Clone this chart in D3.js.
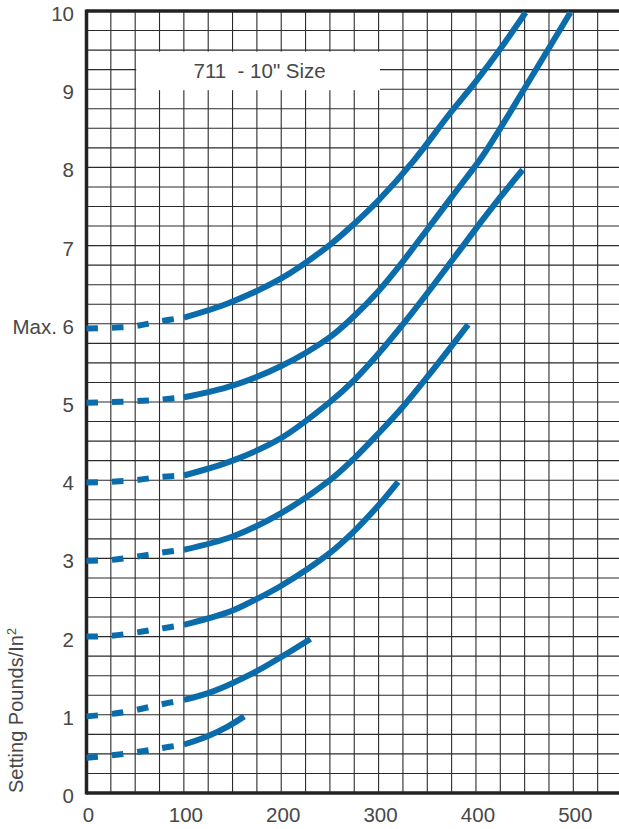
<!DOCTYPE html>
<html>
<head>
<meta charset="utf-8">
<script src="https://cdn.jsdelivr.net/npm/d3@7"></script>
<style>
body { margin: 0; background: #fff; }
text { font-family: "Liberation Sans", Arial, sans-serif; fill: #484848; }
</style>
</head>
<body>
<div id="chart"></div>
<script>
// Tick values and labels
var xTicks = [0, 100, 200, 300, 400, 500];
var yTicks = [0, 1, 2, 3, 4, 5, 6, 7, 8, 9, 10];
var yTickLabels = ["0", "1", "2", "3", "4", "5", "Max. 6", "7", "8", "9", "10"];

var boxLabel = "711  - 10\" Size";
var yTitle = "Setting Pounds/In";

// Curves: [flow, setting]
var curveHalf  = [[0, 0.45], [25, 0.48], [50, 0.52], [75, 0.57], [100, 0.62], [125, 0.73], [145, 0.85], [162, 0.98]];
var curveOne   = [[0, 0.98], [25, 1.01], [50, 1.06], [75, 1.13], [100, 1.19], [130, 1.30], [172, 1.54], [200, 1.74], [230, 1.97]];
var curveTwo   = [[0, 2.0], [25, 2.01], [50, 2.05], [75, 2.1], [100, 2.15], [145, 2.31], [165, 2.42], [200, 2.65], [250, 3.07], [275, 3.35], [300, 3.68], [320, 3.98]];
var curveThree = [[0, 2.97], [25, 2.98], [50, 3.02], [75, 3.07], [100, 3.11], [150, 3.28], [200, 3.58], [250, 4.0], [275, 4.28], [300, 4.6], [325, 4.94], [350, 5.32], [392, 5.99]];
var curveFour  = [[0, 3.97], [25, 3.98], [50, 4.0], [75, 4.04], [100, 4.06], [150, 4.25], [200, 4.54], [250, 5.0], [275, 5.28], [300, 5.62], [335, 6.15], [370, 6.72], [405, 7.3], [425, 7.62], [448, 7.97]];
var curveFive  = [[0, 4.99], [25, 5.0], [50, 5.01], [75, 5.03], [100, 5.06], [150, 5.21], [200, 5.46], [250, 5.83], [275, 6.1], [300, 6.42], [322, 6.75], [349, 7.19], [375, 7.62], [407, 8.15], [425, 8.5], [448, 8.97], [497, 9.98]];
var curveSix   = [[0, 5.94], [25, 5.95], [50, 5.97], [75, 6.03], [100, 6.08], [145, 6.26], [200, 6.58], [250, 7.01], [275, 7.28], [300, 7.58], [337, 8.1], [372, 8.67], [400, 9.1], [427, 9.55], [451, 9.98]];

var curves = [curveHalf, curveOne, curveTwo, curveThree, curveFour, curveFive, curveSix];

// SVG size
var svgWidth = 619;
var svgHeight = 829;

var svg = d3.select("#chart")
    .append("svg")
    .attr("width", svgWidth)
    .attr("height", svgHeight);

// Scales
var x = d3.scaleLinear().domain([0, 550]).range([86.5, 622]);
var y = d3.scaleLinear().domain([0, 10]).range([793, 11]);

// Grid lines every 25 across, every 0.25 up
var gridGroup = svg.append("g").attr("class", "grid");

gridGroup.selectAll(".vline")
    .data(d3.range(25, 550, 25))
    .enter()
    .append("line")
    .attr("class", "vline")
    .attr("x1", d => x(d))
    .attr("x2", d => x(d))
    .attr("y1", y(10))
    .attr("y2", y(0))
    .attr("stroke", "#2b2b2b")
    .attr("stroke-width", 1.1);

gridGroup.selectAll(".hline")
    .data(d3.range(1, 40).map(d => d / 4))
    .enter()
    .append("line")
    .attr("class", "hline")
    .attr("x1", x(0))
    .attr("x2", svgWidth)
    .attr("y1", d => y(d))
    .attr("y2", d => y(d))
    .attr("stroke", "#2b2b2b")
    .attr("stroke-width", 1.1);

// White label box over the grid
svg.append("rect")
    .attr("x", x(50) + 1)
    .attr("y", y(9.5) + 1.5)
    .attr("width", x(301.5) - x(50) - 1)
    .attr("height", y(9) - y(9.5) - 0.5)
    .attr("fill", "#fff");

svg.append("text")
    .attr("x", (x(50) + x(301.5)) / 2 + 2)
    .attr("y", (y(9.5) + y(9)) / 2 + 8)
    .attr("text-anchor", "middle")
    .style("font-size", "20.5px")
    .style("white-space", "pre")
    .text(boxLabel);

// Frame: left, top and bottom
svg.append("line")
    .attr("x1", x(0)).attr("x2", x(0))
    .attr("y1", y(10) - 1.5).attr("y2", y(0) + 1.5)
    .attr("stroke", "#222").attr("stroke-width", 3.5);
svg.append("line")
    .attr("x1", x(0)).attr("x2", svgWidth)
    .attr("y1", y(10)).attr("y2", y(10))
    .attr("stroke", "#222").attr("stroke-width", 3.5);
svg.append("line")
    .attr("x1", x(0)).attr("x2", svgWidth)
    .attr("y1", y(0)).attr("y2", y(0))
    .attr("stroke", "#222").attr("stroke-width", 3.5);

// Curves: dashed up to 100, solid after
var line = d3.line()
    .x(d => x(d[0]))
    .y(d => y(d[1]))
    .curve(d3.curveCatmullRom.alpha(0.5));

var curveGroup = svg.append("g").attr("class", "curves");

curves.forEach(function(pts) {
    curveGroup.append("path")
        .attr("d", line(pts.filter(d => d[0] <= 100)))
        .attr("fill", "none")
        .attr("stroke", "#0a6cab")
        .attr("stroke-width", 6)
        .attr("stroke-dasharray", "11.5,14");
    curveGroup.append("path")
        .attr("d", line(pts.filter(d => d[0] >= 100)))
        .attr("fill", "none")
        .attr("stroke", "#0a6cab")
        .attr("stroke-width", 6);
});

// Tick labels
svg.selectAll(".ylabel")
    .data(yTicks)
    .enter()
    .append("text")
    .attr("class", "ylabel")
    .attr("x", 74)
    .attr("y", d => y(d) + 10)
    .attr("text-anchor", "end")
    .style("font-size", "20.5px")
    .text((d, i) => yTickLabels[i]);

svg.selectAll(".xlabel")
    .data(xTicks)
    .enter()
    .append("text")
    .attr("class", "xlabel")
    .attr("x", d => x(d) + 2)
    .attr("y", 822)
    .attr("text-anchor", "middle")
    .style("font-size", "20.5px")
    .text(d => d);

// Y axis title with superscript
var title = svg.append("text")
    .attr("transform", "translate(23, 793) rotate(-90)")
    .style("font-size", "20px")
    .text(yTitle);
title.append("tspan")
    .attr("dy", -7)
    .style("font-size", "12.5px")
    .text("2");
</script>
</body>
</html>
